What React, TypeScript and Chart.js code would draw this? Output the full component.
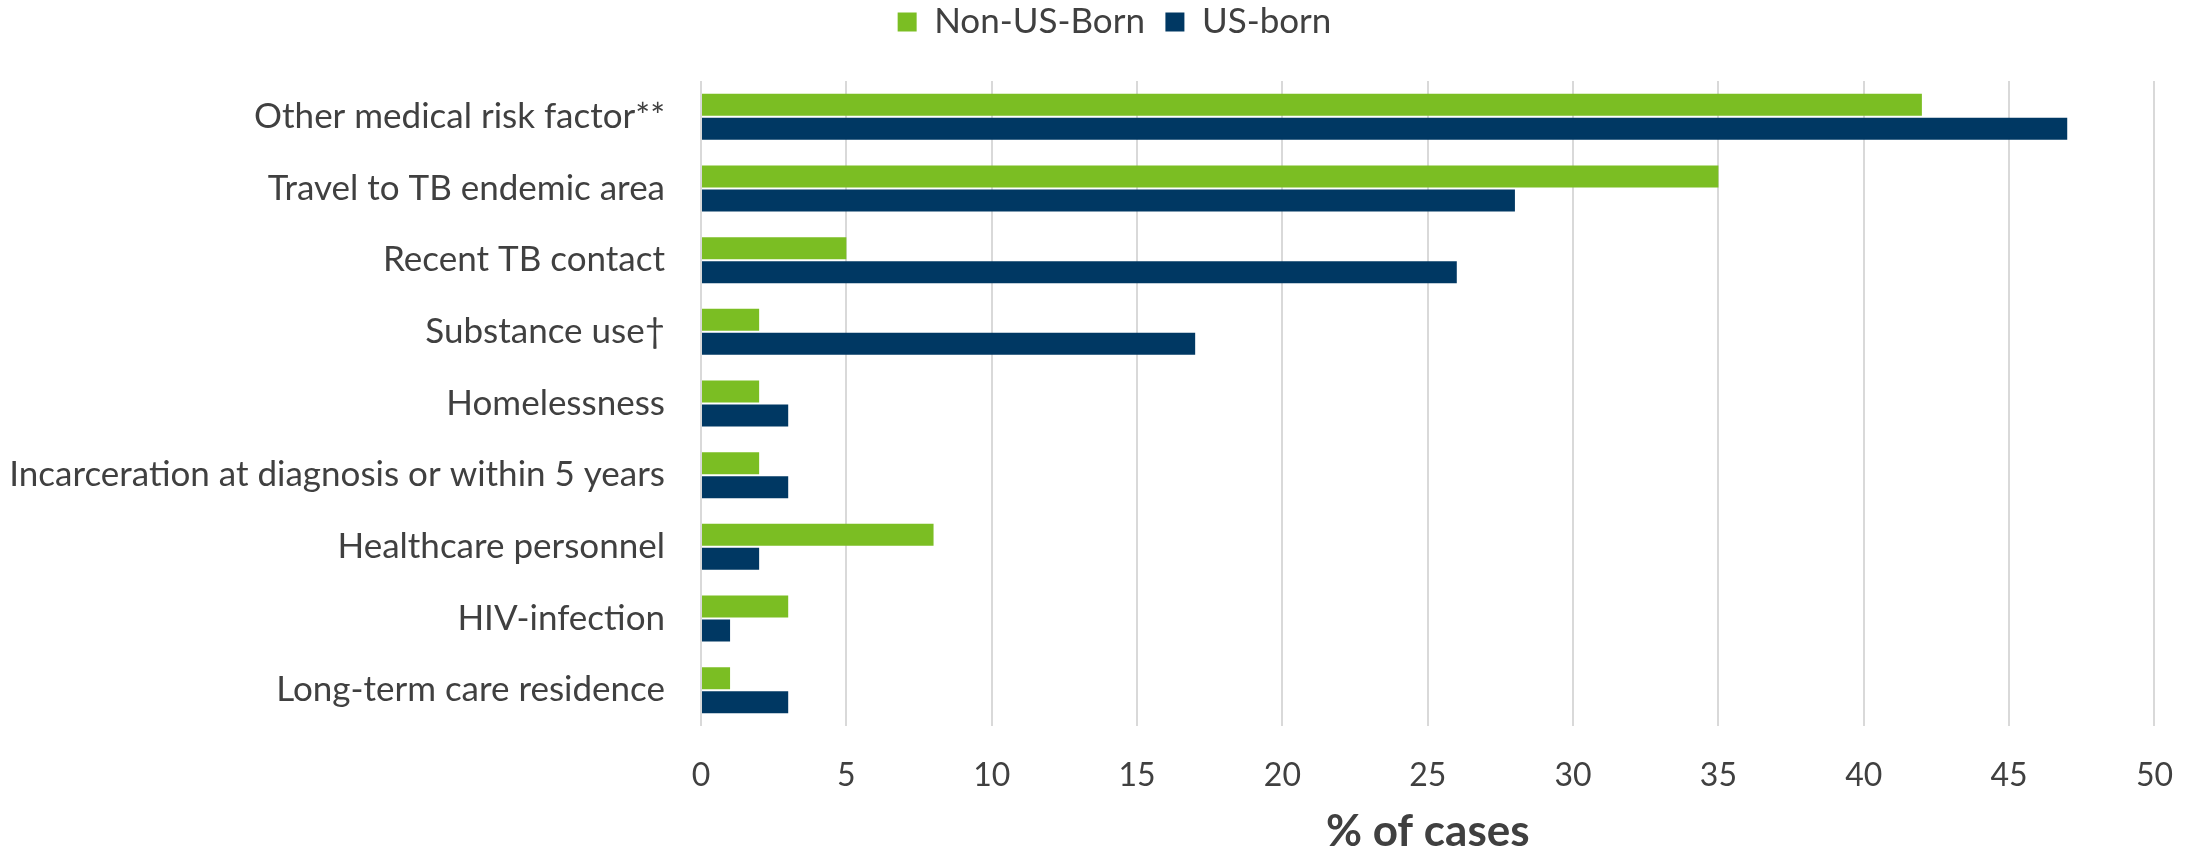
import React, { useEffect, useRef } from "react";
import { Chart, registerables } from "chart.js";

Chart.register(...registerables);

// ---- data ----
const categories: string[] = [
  "Other medical risk factor**",
  "Travel to TB endemic area",
  "Recent TB contact",
  "Substance use†",
  "Homelessness",
  "Incarceration at diagnosis or within 5 years",
  "Healthcare personnel",
  "HIV-infection",
  "Long-term care residence",
];
const seriesNames: string[] = ["Non-US-Born", "US-born"];
const nonUsBorn: number[] = [42, 35, 5, 2, 2, 2, 8, 3, 1];
const usBorn: number[] = [47, 28, 26, 17, 3, 3, 2, 1, 3];
const xMin = 0;
const xMax = 50;
const xStep = 5;
const xTitle = "% of cases";

// ---- style ----
const GREEN = "#7BBE23";
const NAVY = "#003863";
const TEXT = "#404040";
const GRID = "#D9D9D9";
const FONT = "Lato, 'Open Sans', sans-serif";

const W = 2203;
const H = 854;

export default function App() {
  const ref = useRef<HTMLCanvasElement | null>(null);

  useEffect(() => {
    document.body.style.margin = "0";
    const canvas = ref.current;
    if (!canvas) return;

    const legendPatch = {
      id: "legendPatch",
      beforeLayout(chart: any) {
        const lg = chart.legend;
        if (lg && !lg.__patched) {
          const orig = lg.fit.bind(lg);
          lg.fit = function () {
            orig();
            this.height = 97;
          };
          lg.__patched = true;
        }
      },
      afterLayout(chart: any) {
        const lg = chart.legend;
        if (lg) {
          lg.left += 36;
          lg.right += 36;
        }
      },
    };

    const chart = new Chart(canvas, {
      type: "bar",
      data: {
        labels: categories,
        datasets: [
          {
            label: seriesNames[0],
            data: nonUsBorn,
            backgroundColor: GREEN,
            borderWidth: 0,
            categoryPercentage: 0.67,
            barPercentage: 0.9167,
          },
          {
            label: seriesNames[1],
            data: usBorn,
            backgroundColor: NAVY,
            borderWidth: 0,
            categoryPercentage: 0.67,
            barPercentage: 0.9167,
          },
        ],
      },
      options: {
        indexAxis: "y",
        responsive: false,
        animation: false,
        devicePixelRatio: 1,
        layout: { padding: { top: -16, left: 0, right: 46, bottom: 0 } },
        plugins: {
          legend: {
            position: "top",
            align: "center",
            labels: {
              boxWidth: 19,
              boxHeight: 19,
              padding: 20.5,
              color: TEXT,
              font: { family: FONT, size: 35 },
            },
          },
          tooltip: { enabled: false },
        },
        scales: {
          x: {
            type: "linear",
            min: xMin,
            max: xMax,
            ticks: {
              stepSize: xStep,
              color: TEXT,
              padding: 30,
              font: { family: FONT, size: 32 },
            },
            grid: {
              color: GRID,
              lineWidth: 2,
              drawTicks: false,
            },
            border: { display: false },
            title: {
              display: true,
              text: xTitle,
              color: TEXT,
              font: { family: FONT, size: 44, weight: "bold", lineHeight: 1 },
              padding: { top: 0, bottom: 0 },
            },
            afterFit(scale: any) {
              scale.height = 128;
            },
          },
          y: {
            ticks: {
              color: TEXT,
              padding: 36,
              font: { family: FONT, size: 35 },
            },
            grid: { display: false, drawTicks: false },
            border: { display: false },
            afterFit(scale: any) {
              scale.width = 701;
            },
          },
        },
      },
      plugins: [legendPatch],
    } as any);

    let alive = true;
    if ((document as any).fonts && (document as any).fonts.load) {
      Promise.all([
        (document as any).fonts.load(`35px Lato`),
        (document as any).fonts.load(`bold 44px Lato`),
      ]).then(() => {
        if (alive) chart.update();
      });
    }

    return () => {
      alive = false;
      chart.destroy();
    };
  }, []);

  return (
    <div style={{ position: "absolute", left: 0, top: 0, width: W, height: H, background: "#fff" }}>
      <canvas ref={ref} width={W} height={H} style={{ display: "block", width: W, height: H }} />
    </div>
  );
}
